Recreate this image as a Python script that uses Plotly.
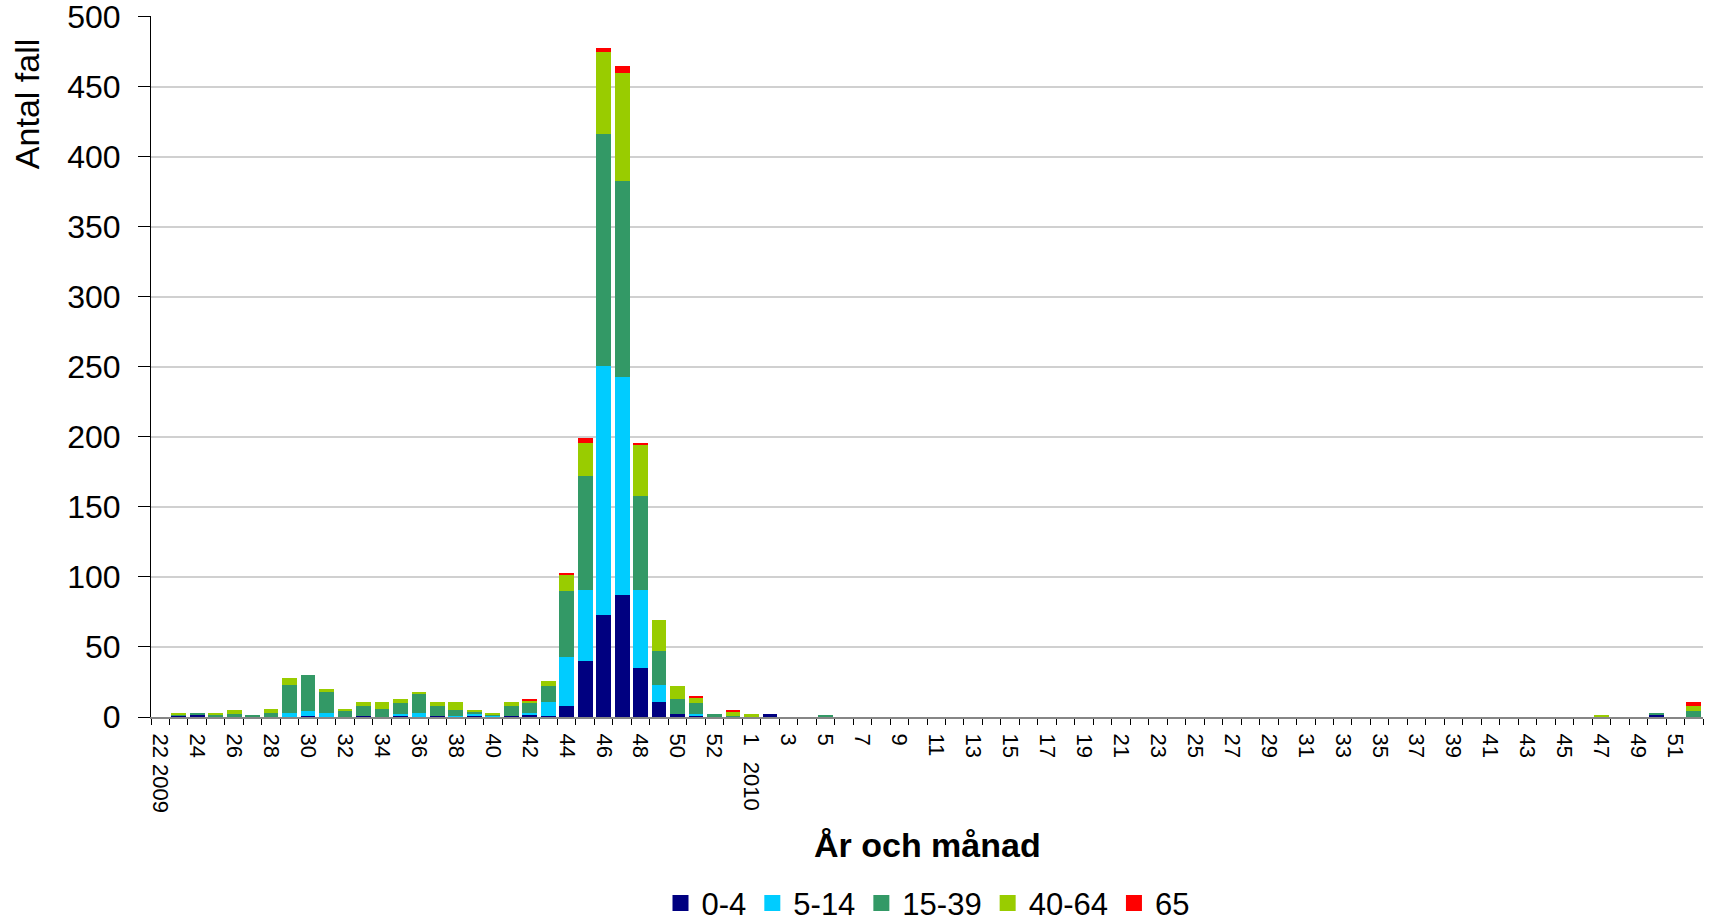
import plotly.graph_objects as go

# ── Weekly cases by age group, 2009 w22 – 2010 w52 ────────────────────────────
weeks_2009 = list(range(22, 54))
weeks_2010 = list(range(1, 53))

age_0_4 = [
    0, 1, 2, 0, 0, 0, 0, 0, 1, 0, 0, 1, 0, 1, 0, 1, 0, 1, 0, 1, 2, 1,
    8, 40, 73, 87, 35, 11, 2, 1, 0, 0,
    0, 2, 0, 0, 0, 0, 0, 0, 0, 0, 0, 0, 0, 0, 0, 0, 0, 0, 0, 0, 0, 0,
    0, 0, 0, 0, 0, 0, 0, 0, 0, 0, 0, 0, 0, 0, 0, 0, 0, 0, 0, 0, 0, 0,
    0, 0, 0, 0, 0, 2, 0, 0,
]
age_5_14 = [
    0, 0, 0, 0, 0, 0, 0, 3, 3, 3, 0, 0, 0, 1, 3, 0, 1, 1, 1, 0, 1, 10,
    35, 51, 178, 156, 56, 12, 0, 1, 0, 0,
    0, 0, 0, 0, 0, 0, 0, 0, 0, 0, 0, 0, 0, 0, 0, 0, 0, 0, 0, 0, 0, 0,
    0, 0, 0, 0, 0, 0, 0, 0, 0, 0, 0, 0, 0, 0, 0, 0, 0, 0, 0, 0, 0, 0,
    0, 0, 0, 0, 0, 0, 0, 0,
]
age_15_39 = [
    0, 1, 1, 2, 2, 1, 3, 20, 26, 15, 4, 7, 6, 8, 14, 7, 4, 2, 1, 7, 7, 11,
    47, 81, 165, 140, 67, 24, 11, 8, 2, 1,
    0, 0, 0, 0, 1, 0, 0, 0, 0, 0, 0, 0, 0, 0, 0, 0, 0, 0, 0, 0, 0, 0,
    0, 0, 0, 0, 0, 0, 0, 0, 0, 0, 0, 0, 0, 0, 0, 0, 0, 0, 0, 0, 0, 0,
    0, 0, 0, 0, 0, 1, 0, 4,
]
age_40_64 = [
    0, 1, 0, 1, 3, 0, 3, 5, 0, 2, 2, 3, 5, 3, 1, 3, 6, 1, 1, 3, 2, 4,
    12, 24, 59, 77, 36, 22, 9, 4, 0, 3,
    2, 0, 0, 0, 0, 0, 0, 0, 0, 0, 0, 0, 0, 0, 0, 0, 0, 0, 0, 0, 0, 0,
    0, 0, 0, 0, 0, 0, 0, 0, 0, 0, 0, 0, 0, 0, 0, 0, 0, 0, 0, 0, 0, 0,
    0, 0, 1, 0, 0, 0, 0, 4,
]
age_65 = [
    0, 0, 0, 0, 0, 0, 0, 0, 0, 0, 0, 0, 0, 0, 0, 0, 0, 0, 0, 0, 1, 0,
    1, 3, 3, 5, 2, 0, 0, 1, 0, 1,
    0, 0, 0, 0, 0, 0, 0, 0, 0, 0, 0, 0, 0, 0, 0, 0, 0, 0, 0, 0, 0, 0,
    0, 0, 0, 0, 0, 0, 0, 0, 0, 0, 0, 0, 0, 0, 0, 0, 0, 0, 0, 0, 0, 0,
    0, 0, 0, 0, 0, 0, 0, 3,
]

series_names = ["0-4", "5-14", "15-39", "40-64", "65"]
series_vals = [age_0_4, age_5_14, age_15_39, age_40_64, age_65]
series_cols = ["#000080", "#00CCFF", "#339966", "#99CC00", "#FF0000"]

cats = [f"2009-{w}" for w in weeks_2009] + [f"2010-{w}" for w in weeks_2010]
week_nums = weeks_2009 + weeks_2010
tick_text = [str(w) if i % 2 == 0 else "" for i, w in enumerate(week_nums)]
tick_text[0] = "22 2009"

_FONT = "Liberation Sans, Arial, sans-serif"

fig = go.Figure()
for name, vals, col in zip(series_names, series_vals, series_cols):
    fig.add_trace(go.Bar(name=name, x=cats, y=vals, showlegend=False,
                         marker=dict(color=col, line=dict(width=0))))
# legend proxies with bigger square swatches
for name, col in zip(series_names, series_cols):
    fig.add_trace(go.Scatter(name=name, x=[None], y=[None], mode="markers",
                             marker=dict(symbol="square", size=19, color=col)))

fig.update_layout(
    barmode="stack",
    bargap=0.2,
    width=1710, height=924,
    paper_bgcolor="white", plot_bgcolor="white",
    font=dict(family=_FONT, color="black"),
    margin=dict(l=151, r=7, t=16, b=207, autoexpand=False),
    xaxis=dict(
        type="category",
        tickmode="array", tickvals=cats, ticktext=tick_text,
        tickson="boundaries", tickangle=90,
        ticks="outside", ticklen=6, tickcolor="black",
        ticklabelstandoff=10,
        tickfont=dict(size=22),
        showline=True, linecolor="#868686", linewidth=2,
        showgrid=False,
    ),
    yaxis=dict(
        range=[0, 500.6], tickmode="linear", tick0=0, dtick=50,
        ticks="outside", ticklen=12, tickcolor="black",
        ticklabelstandoff=11, ticklabeloverflow="allow",
        tickfont=dict(size=32),
        showline=True, linecolor="black", linewidth=1,
        gridcolor="#D0D0D0", gridwidth=1.5,
        zeroline=False,
    ),
    legend=dict(
        orientation="h", x=0.5, xanchor="center", y=-0.266, yanchor="middle",
        font=dict(size=31), traceorder="normal", itemwidth=32,
    ),
    annotations=[
        dict(text="Antal fall", textangle=-90, xref="paper", yref="paper",
             x=-0.0798, y=0.8745, xanchor="center", yanchor="middle",
             showarrow=False, font=dict(size=34)),
        dict(text="<b>År och månad</b>", xref="paper", yref="paper",
             x=0.5, y=-0.1826, xanchor="center", yanchor="middle",
             showarrow=False, font=dict(size=34)),
        dict(text="2010", textangle=90, xref="x", yref="paper",
             x=cats[len(weeks_2009)], y=-0.061, xanchor="center", yanchor="top",
             showarrow=False, font=dict(size=22)),
    ],
)

fig.write_html("out.html", config=dict(displayModeBar=False),
               post_script="document.body.style.margin='0';")
